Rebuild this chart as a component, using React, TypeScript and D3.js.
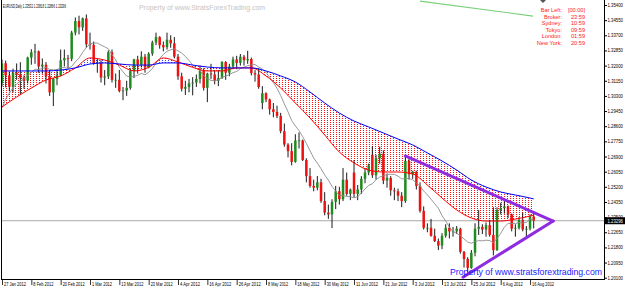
import React, { useEffect } from "react";
import * as d3 from "d3";

// ---------- DATA ----------
const opens = [
  1.3102,1.3213,1.3145,1.3081,1.3160,1.3150,1.3132,1.3115,1.3245,1.3275,
  1.3280,1.3195,1.3205,1.3140,1.3050,1.3125,1.3145,1.3230,1.3242,1.3238,
  1.3385,1.3450,1.3415,1.3465,1.3320,1.3316,1.3214,1.3216,1.3133,1.3139,
  1.3275,1.3120,1.3120,1.3057,1.3060,1.3075,1.3170,1.3235,1.3205,1.3250,
  1.3190,1.3267,1.3330,1.3360,1.3315,1.3303,1.3345,1.3325,1.3250,1.3140,
  1.3070,1.3080,1.3100,1.3105,1.3125,1.3170,1.3075,1.3155,1.3150,1.3115,
  1.3130,1.3220,1.3160,1.3195,1.3235,1.3215,1.3250,1.3230,1.3237,1.3158,
  1.3150,1.2990,1.3045,1.3010,1.2955,1.2940,1.2918,1.2832,1.2757,1.2720,
  1.2660,1.2780,1.2780,1.2670,1.2580,1.2525,1.2515,1.2545,1.2440,1.2375,
  1.2365,1.2435,1.2495,1.2450,1.2560,1.2480,1.2600,1.2480,1.2505,1.2565,
  1.2600,1.2700,1.2585,1.2680,1.2705,1.2555,1.2570,1.2500,1.2495,1.2470,
  1.2440,1.2665,1.2590,1.2605,1.2525,1.2385,1.2290,1.2290,1.2245,1.2215,
  1.2190,1.2245,1.2290,1.2270,1.2270,1.2285,1.2155,1.2115,1.2065,1.2150,
  1.2285,1.2295,1.2280,1.2305,1.2250,1.2165,1.2390,1.2400,1.2410,1.2365,
  1.2285,1.2290,1.2335,1.2280,1.2285,1.23532,
];
const highs = [
  1.3234,1.3228,1.3167,1.3183,1.3212,1.3219,1.3145,1.3250,1.3292,1.3322,
  1.3285,1.3240,1.3220,1.3175,1.3130,1.3180,1.3290,1.3290,1.3260,1.3395,
  1.3470,1.3480,1.3470,1.3487,1.3385,1.3335,1.3240,1.3230,1.3175,1.3285,
  1.3290,1.3155,1.3175,1.3080,1.3115,1.3185,1.3238,1.3255,1.3280,1.3265,
  1.3275,1.3340,1.3385,1.3365,1.3335,1.3385,1.3370,1.3360,1.3265,1.3160,
  1.3115,1.3125,1.3135,1.3150,1.3200,1.3185,1.3160,1.3210,1.3175,1.3175,
  1.3225,1.3225,1.3210,1.3250,1.3255,1.3265,1.3260,1.3283,1.3245,1.3175,
  1.3185,1.3085,1.3050,1.3015,1.2990,1.2975,1.2935,1.2875,1.2765,1.2765,
  1.2815,1.2825,1.2785,1.2680,1.2625,1.2560,1.2580,1.2565,1.2490,1.2420,
  1.2450,1.2525,1.2520,1.2625,1.2600,1.2510,1.2670,1.2530,1.2580,1.2625,
  1.2650,1.2748,1.2700,1.2745,1.2725,1.2595,1.2580,1.2515,1.2510,1.2490,
  1.2693,1.2680,1.2610,1.2610,1.2545,1.2410,1.2315,1.2340,1.2285,1.2230,
  1.2260,1.2310,1.2315,1.2295,1.2300,1.2290,1.2160,1.2125,1.2165,1.2315,
  1.2390,1.2310,1.2320,1.2335,1.2405,1.2405,1.2430,1.2443,1.2415,1.2370,
  1.2310,1.2350,1.2375,1.2300,1.2365,1.23818,
];
const lows = [
  1.3083,1.3078,1.3056,1.3050,1.3120,1.3040,1.3070,1.3100,1.3205,1.3210,
  1.3160,1.3155,1.3100,1.3030,1.2973,1.3090,1.3140,1.3195,1.3185,1.3225,
  1.3370,1.3375,1.3395,1.3300,1.3290,1.3205,1.3160,1.3105,1.3090,1.3125,
  1.3105,1.3075,1.3050,1.3006,1.3030,1.3065,1.3130,1.3155,1.3190,1.3160,
  1.3185,1.3255,1.3315,1.3295,1.3280,1.3290,1.3300,1.3240,1.3120,1.3055,
  1.3035,1.3050,1.3033,1.3080,1.3100,1.3060,1.2995,1.3125,1.3095,1.3085,
  1.3125,1.3120,1.3140,1.3180,1.3180,1.3200,1.3200,1.3210,1.3145,1.3110,
  1.3070,1.2955,1.2995,1.2925,1.2910,1.2905,1.2820,1.2745,1.2685,1.2640,
  1.2655,1.2735,1.2665,1.2545,1.2515,1.2495,1.2500,1.2430,1.2360,1.2340,
  1.2288,1.2395,1.2420,1.2440,1.2470,1.2445,1.2460,1.2445,1.2480,1.2540,
  1.2585,1.2570,1.2560,1.2650,1.2535,1.2515,1.2470,1.2445,1.2440,1.2406,
  1.2430,1.2560,1.2565,1.2505,1.2375,1.2280,1.2265,1.2240,1.2210,1.2165,
  1.2170,1.2235,1.2230,1.2240,1.2255,1.2145,1.2067,1.2042,1.2060,1.2130,
  1.2250,1.2255,1.2240,1.2240,1.2135,1.2160,1.2365,1.2370,1.2345,1.2270,
  1.2240,1.2280,1.2270,1.2240,1.2275,1.22866,
];
const closes = [
  1.3213,1.3145,1.3081,1.3160,1.3150,1.3132,1.3115,1.3245,1.3275,1.3280,
  1.3195,1.3205,1.3140,1.3050,1.3125,1.3145,1.3230,1.3242,1.3238,1.3385,
  1.3450,1.3415,1.3465,1.3320,1.3316,1.3214,1.3216,1.3133,1.3139,1.3275,
  1.3120,1.3120,1.3057,1.3060,1.3075,1.3170,1.3235,1.3205,1.3250,1.3190,
  1.3267,1.3330,1.3360,1.3315,1.3303,1.3345,1.3325,1.3250,1.3140,1.3070,
  1.3080,1.3100,1.3105,1.3125,1.3170,1.3075,1.3155,1.3150,1.3115,1.3130,
  1.3220,1.3160,1.3195,1.3235,1.3215,1.3250,1.3230,1.3237,1.3158,1.3150,
  1.3080,1.3045,1.3010,1.2955,1.2940,1.2918,1.2832,1.2757,1.2720,1.2660,
  1.2780,1.2780,1.2670,1.2580,1.2525,1.2515,1.2545,1.2440,1.2375,1.2365,
  1.2435,1.2495,1.2450,1.2560,1.2480,1.2505,1.2480,1.2505,1.2565,1.2600,
  1.2640,1.2585,1.2680,1.2705,1.2555,1.2570,1.2500,1.2495,1.2470,1.2440,
  1.2665,1.2590,1.2605,1.2525,1.2385,1.2290,1.2290,1.2245,1.2215,1.2190,
  1.2245,1.2290,1.2270,1.2270,1.2285,1.2155,1.2115,1.2065,1.2150,1.2285,
  1.2295,1.2280,1.2305,1.2250,1.2165,1.2390,1.2400,1.2410,1.2365,1.2285,
  1.2290,1.2335,1.2280,1.2285,1.2355,1.23296,
];
// gray fast moving average (per bar)
const grayMA = [
  1.2963,1.3012,1.3045,1.3077,1.3096,1.3115,1.3123,1.3144,1.3162,1.31796,
  1.31778,1.31838,1.31897,1.31787,1.31762,1.31775,1.31890,1.31887,1.31850,1.31955,
  1.32210,1.32420,1.32745,1.33015,1.33206,1.33275,1.33261,1.33152,1.33053,1.32943,
  1.32613,1.32318,1.31910,1.31650,1.31409,1.31365,1.31384,1.31456,1.31567,1.31482,
  1.31629,1.31839,1.32142,1.32397,1.32625,1.32800,1.32890,1.32935,1.32825,1.32705,
  1.32518,1.32288,1.32033,1.31843,1.31710,1.31440,1.31270,1.31170,1.31145,1.31205,
  1.31345,1.31405,1.31495,1.31605,1.31670,1.31830,1.31910,1.31997,1.32040,1.32060,
  1.31920,1.31805,1.31620,1.31340,1.31045,1.30728,1.30325,1.29845,1.29407,1.28917,
  1.28617,1.28352,1.28012,1.27637,1.27222,1.26819,1.26532,1.26215,1.25870,1.25575,
  1.25230,1.24945,1.24725,1.24705,1.24660,1.24650,1.24585,1.24650,1.24840,1.25075,
  1.25280,1.25370,1.25600,1.25745,1.25820,1.25885,1.25905,1.25895,1.25800,1.25640,
  1.25665,1.25670,1.25595,1.25415,1.25245,1.24965,1.24755,1.24505,1.24250,1.24000,
  1.23580,1.23280,1.22945,1.22690,1.22590,1.22455,1.22280,1.22100,1.22035,1.22130,
  1.22180,1.22170,1.22205,1.22185,1.22065,1.22300,1.22585,1.22930,1.23145,1.23145,
  1.23140,1.23195,1.23170,1.23205,1.23395,1.23335,
];
// slow lines, read at these bars
const lineBars = [0,4,8,12,16,20,24,28,32,36,40,44,48,52,56,60,64,68,72,76,80,84,88,92,96,100,104,108,112,116,120,124,128,132,136,140,144,145];
const redLine = [
  1.2968,1.3024,1.3074,1.3119,1.3142,1.3187,1.3243,1.3231,1.3203,1.3170,
  1.3190,1.3243,1.3220,1.3190,1.3170,1.3170,1.3187,1.3187,1.3142,1.3074,
  1.2990,1.2906,1.2811,1.2715,1.2654,1.2614,1.2603,1.2603,1.2592,1.2530,
  1.2457,1.2390,1.2345,1.2328,1.2328,1.2339,1.2356,1.2362,
];
const blueLine = [
  1.3170,1.3170,1.3170,1.3170,1.3175,1.3187,1.3209,1.3215,1.3209,1.3203,
  1.3203,1.3215,1.3215,1.3203,1.3192,1.3187,1.3187,1.3187,1.3170,1.3142,
  1.3108,1.3052,1.2990,1.2934,1.2889,1.2856,1.2822,1.2788,1.2755,1.2710,
  1.2665,1.2614,1.2558,1.2519,1.2491,1.2474,1.2457,1.2452,
];
const dateTickBars = [0,8,16,24,32,40,48,56,64,72,80,88,96,104,112,120,128,136,144];
const dateTickLabels = [
  "27 Jan 2012","8 Feb 2012","20 Feb 2012","1 Mar 2012","13 Mar 2012","23 Mar 2012",
  "4 Apr 2012","16 Apr 2012","26 Apr 2012","8 May 2012","18 May 2012","30 May 2012",
  "11 Jun 2012","21 Jun 2012","3 Jul 2012","13 Jul 2012","25 Jul 2012","6 Aug 2012","16 Aug 2012",
];
const priceTicks = [1.354,1.3455,1.337,1.3285,1.32,1.3115,1.303,1.2945,1.286,1.2775,1.269,1.2605,1.252,1.2435,1.235,1.2265,1.218,1.2095,1.201];
const lastPrice = 1.23296;
const titleText = "EURUSD,Daily  1.23532 1.23818 1.22866 1.23296";
const infoLabels = ["Bar Left:", "Broker:", "Sydney:", "Tokyo:", "London:", "New York:"];
const infoValues = ["[00:00]", "23:59", "10:59", "09:59", "01:59", "20:59"];
const trendUpper = [[110, 1.2693], [150.3, 1.2328]];
const trendLower = [[125.7, 1.2013], [150.3, 1.2328]];
const greenTrend = [[114, 1.3562], [144.8, 1.3478]];

export default function App() {
  useEffect(() => {
    document.body.style.margin = "0";
  }, []);

  const plotL = 1, plotR = 604, plotT = 0, plotB = 279;
  const x = d3.scaleLinear().domain([0, 145]).range([2, 533.7]);
  const y = d3.scaleLinear().domain([1.354, 1.201]).range([5, 277.7]);

  const pts = lineBars.map((b, i) => ({ b, r: redLine[i], bl: blueLine[i] }));
  const curve = d3.curveMonotoneX;
  const lineRed = d3.line<any>().x((d) => x(d.b)).y((d) => y(d.r)).curve(curve);
  const lineBlue = d3.line<any>().x((d) => x(d.b)).y((d) => y(d.bl)).curve(curve);
  const areaAboveRed = d3.area<any>().x((d) => x(d.b)).y0(plotT).y1((d) => y(d.r)).curve(curve);
  const areaBelowRed = d3.area<any>().x((d) => x(d.b)).y0(plotB).y1((d) => y(d.r)).curve(curve);
  const areaAboveBlue = d3.area<any>().x((d) => x(d.b)).y0(plotT).y1((d) => y(d.bl)).curve(curve);
  const areaBelowBlue = d3.area<any>().x((d) => x(d.b)).y0(plotB).y1((d) => y(d.bl)).curve(curve);
  const lineGray = d3.line<number>().x((_, i) => x(i)).y((d) => y(d));
  const seg = d3.line<number[]>().x((d) => x(d[0])).y((d) => y(d[1]));

  const font = "'Liberation Sans', Arial, sans-serif";

  return (
    <svg width={625} height={288} style={{ position: "absolute", left: 0, top: 0, display: "block", background: "#fff" }} fontFamily={font}>
      <defs>
        <pattern id="hatchRed" width={3} height={2} patternUnits="userSpaceOnUse">
          <rect x={0} y={0} width={1} height={1} fill="#ff1010" />
        </pattern>
        <pattern id="hatchBlue" width={3} height={2} patternUnits="userSpaceOnUse">
          <rect x={0} y={0} width={1} height={1} fill="#4040ff" />
        </pattern>
        <clipPath id="clipBelowBlue"><path d={areaBelowBlue(pts) || ""} /></clipPath>
        <clipPath id="clipBelowRed"><path d={areaBelowRed(pts) || ""} /></clipPath>
        <clipPath id="plotClip"><rect x={plotL} y={plotT} width={plotR - plotL} height={plotB - plotT} /></clipPath>
      </defs>
      <rect x={0} y={0} width={625} height={288} fill="#fff" />

      <g clipPath="url(#plotClip)">
        {/* hatching */}
        <path d={areaAboveRed(pts) || ""} fill="url(#hatchRed)" clipPath="url(#clipBelowBlue)" />
        <path d={areaAboveBlue(pts) || ""} fill="url(#hatchBlue)" clipPath="url(#clipBelowRed)" />

        {/* last price line */}
        <line x1={plotL} x2={plotR} y1={y(lastPrice)} y2={y(lastPrice)} stroke="#a8a8a8" strokeWidth={1} />

        {/* candles */}
        {closes.map((c, i) => {
          const o = opens[i];
          const cx = x(i);
          const up = c >= o;
          const top = y(Math.max(o, c));
          const bot = y(Math.min(o, c));
          return (
            <g key={i}>
              <line x1={cx} x2={cx} y1={y(highs[i])} y2={y(lows[i])} stroke="#000" strokeWidth={0.9} />
              <rect x={cx - 1.25} y={top} width={2.5} height={Math.max(0.8, bot - top)} fill={up ? "#1e8c1e" : "#f01010"} />
            </g>
          );
        })}

        {/* moving averages */}
        <path d={lineGray(grayMA) || ""} fill="none" stroke="#8c8c8c" strokeWidth={0.9} />
        <path d={lineRed(pts) || ""} fill="none" stroke="#ff0000" strokeWidth={1} />
        <path d={lineBlue(pts) || ""} fill="none" stroke="#0000ff" strokeWidth={1} />

        {/* trendlines */}
        <path d={seg(greenTrend as any) || ""} stroke="#7ad07a" strokeWidth={1.2} fill="none" />
        <path d={seg(trendUpper as any) || ""} stroke="#8f2be0" strokeWidth={3} fill="none" strokeLinecap="round" />
        <path d={seg(trendLower as any) || ""} stroke="#8f2be0" strokeWidth={3} fill="none" strokeLinecap="round" />
      </g>

      {/* frame */}
      <line x1={1.5} x2={1.5} y1={0} y2={plotB + 0.5} stroke="#000" />
      <line x1={plotR + 0.5} x2={plotR + 0.5} y1={0} y2={plotB + 0.5} stroke="#000" />
      <line x1={1} x2={plotR + 1} y1={plotB + 0.5} y2={plotB + 0.5} stroke="#000" />

      {/* chart shift marker */}
      <path d="M540,0 L546,0 L543,3 Z" fill="#555" />

      {/* texts */}
      <text x={3} y={7.5} fontSize={5.6} fill="#000" textLength={63} lengthAdjust="spacingAndGlyphs">{titleText}</text>
      <text x={139} y={9.5} fontSize={7.6} fill="#c4c4c4" textLength={126} lengthAdjust="spacingAndGlyphs">Property of www.StratsForexTrading.com</text>
      {infoLabels.map((t, i) => (
        <text key={t} x={562} y={12.2 + i * 6.55} fontSize={5.6} fill="#ff1a1a" textAnchor="end">{t}</text>
      ))}
      {infoValues.map((t, i) => (
        <text key={t + i} x={585} y={12.2 + i * 6.55} fontSize={5.6} fill="#ff1a1a" textAnchor="end">{t}</text>
      ))}
      <text x={450} y={274.5} fontSize={9.6} fill="#1a1aff" textLength={152} lengthAdjust="spacingAndGlyphs">Property of www.stratsforextrading.com</text>

      {/* price axis */}
      {priceTicks.map((p) => (
        <g key={p}>
          <line x1={plotR} x2={plotR + 3} y1={y(p) + 0.5} y2={y(p) + 0.5} stroke="#000" />
          <text x={607.5} y={y(p) + 2} fontSize={5.2} fill="#000" textLength={15.5} lengthAdjust="spacingAndGlyphs">{p.toFixed(5)}</text>
        </g>
      ))}
      <rect x={605} y={y(lastPrice) - 3.5} width={20} height={7} fill="#000" />
      <text x={607.5} y={y(lastPrice) + 2} fontSize={5.2} fill="#fff" textLength={15.5} lengthAdjust="spacingAndGlyphs">{lastPrice.toFixed(5)}</text>

      {/* date axis */}
      {dateTickBars.map((b, i) => (
        <g key={b}>
          <line x1={x(b) + 0.5} x2={x(b) + 0.5} y1={plotB + 1} y2={plotB + 6} stroke="#000" strokeWidth={0.8} />
          <text x={x(b) + 2} y={285.5} fontSize={5.2} fill="#000" textLength={dateTickLabels[i].length * 2} lengthAdjust="spacingAndGlyphs">{dateTickLabels[i]}</text>
        </g>
      ))}
    </svg>
  );
}
